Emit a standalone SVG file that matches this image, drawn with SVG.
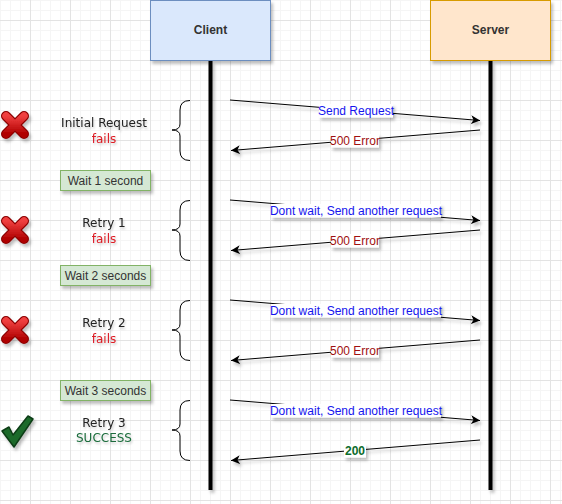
<svg xmlns="http://www.w3.org/2000/svg" width="562" height="504" viewBox="0 0 562 504">
<defs>
<pattern id="grid" patternUnits="userSpaceOnUse" x="0" y="0" width="40" height="40">
<path d="M0.5 0V40M10.5 0V40M20.5 0V40M0 0.5H40M0 10.5H40M0 30.5H40" stroke="#f5f5f5" stroke-width="1" fill="none"/>
<path d="M30.5 0V40M0 20.5H40" stroke="#e3e3e3" stroke-width="1" fill="none"/>
</pattern>
<filter id="sh" filterUnits="userSpaceOnUse" x="0" y="0" width="562" height="504">
<feDropShadow dx="2" dy="3" stdDeviation="1.5" flood-color="#000" flood-opacity="0.25"/>
</filter>
<filter id="tsh" filterUnits="userSpaceOnUse" x="0" y="0" width="562" height="504">
<feDropShadow dx="1" dy="2" stdDeviation="1" flood-color="#000" flood-opacity="0.2"/>
</filter>
<marker id="arr" markerWidth="10" markerHeight="10" refX="9" refY="5" orient="auto" markerUnits="userSpaceOnUse">
<path d="M0 0.5L9 5L0 9.5L2.5 5Z" fill="#000"/>
</marker>
<linearGradient id="red" x1="0" y1="0" x2="0" y2="1">
<stop offset="0" stop-color="#f04040"/>
<stop offset="1" stop-color="#b00000"/>
</linearGradient>
<g id="xicon">
<path d="M-9 -9L9 9M9 -9L-9 9" stroke="#8a0000" stroke-width="10" stroke-linecap="round"/>
<path d="M-9 -9L9 9M9 -9L-9 9" stroke="url(#red)" stroke-width="7.5" stroke-linecap="round"/>
</g>
</defs>
<style>
.cmt{font-family:"Comic Sans MS","DejaVu Sans",sans-serif;font-size:12px;text-anchor:middle;fill:#222}
.fail{fill:#dd1a22}
.ok{fill:#1a6b3a}
.wait rect{fill:#d5e8d4;stroke:#82b366;stroke-width:1}
.wait text{font-family:"Liberation Sans",Arial,sans-serif;font-size:12px;fill:#333;text-anchor:middle}
.brace{fill:none;stroke:#000;stroke-width:1}
.msg{stroke:#000;stroke-width:1;fill:none}
.lbl rect{fill:#fff}
.lbl text{font-family:"Liberation Sans",Arial,sans-serif;font-size:12px;text-anchor:middle}
.blue{fill:#1515ee}
.err{fill:#a01010}
.g200{fill:#0b6b2b;font-weight:bold}
.life{fill:#000}
.hdr{font-family:"Liberation Sans",Arial,sans-serif;font-size:12px;font-weight:bold;fill:#333;text-anchor:middle}
</style>
<rect width="562" height="504" fill="#fff"/>
<rect width="562" height="504" fill="url(#grid)"/>

<g id="client">
<rect x="150.5" y="0.5" width="120" height="60" fill="#dae8fc" stroke="#6c8ebf" filter="url(#sh)"/>
<text class="hdr" x="210.5" y="34">Client</text>
<rect class="life" x="208.5" y="61" width="4" height="429" filter="url(#sh)"/>
</g>
<g id="server">
<rect x="430.5" y="0.5" width="120" height="60" fill="#ffe6cc" stroke="#d79b00" filter="url(#sh)"/>
<text class="hdr" x="490.5" y="34">Server</text>
<rect class="life" x="488.5" y="61" width="4" height="429" filter="url(#sh)"/>
</g>

<g id="icons" filter="url(#sh)">
<use href="#xicon" x="15" y="125"/>
<use href="#xicon" x="15" y="230"/>
<use href="#xicon" x="15" y="330"/>
<path d="M2 431 L9 427 L13 435 L28 416 L33 419 L14 447 Z" fill="#1c6b2c" stroke="#0d3d16" stroke-width="1.5" stroke-linejoin="round"/>
</g>

<g id="notes" filter="url(#tsh)">
<text class="cmt" x="104" y="127">Initial Request</text>
<text class="cmt fail" x="104" y="143">fails</text>
<text class="cmt" x="104" y="227">Retry 1</text>
<text class="cmt fail" x="104" y="243">fails</text>
<text class="cmt" x="104" y="327">Retry 2</text>
<text class="cmt fail" x="104" y="343">fails</text>
<text class="cmt" x="104" y="427">Retry 3</text>
<text class="cmt ok" x="104" y="442">SUCCESS</text>
</g>

<g id="wait1" class="wait"><rect x="60.5" y="170.5" width="90" height="20" filter="url(#sh)"/><text x="105.5" y="185">Wait 1 second</text></g>
<g id="wait2" class="wait"><rect x="60.5" y="265.5" width="90" height="20" filter="url(#sh)"/><text x="105.5" y="280">Wait 2 seconds</text></g>
<g id="wait3" class="wait"><rect x="60.5" y="380.5" width="90" height="20" filter="url(#sh)"/><text x="105.5" y="395">Wait 3 seconds</text></g>

<g id="braces">
<path class="brace" d="M190 100.5 Q180 100.5 180 110 L180 124 Q180 130 172 130 Q180 130 180 136 L180 151 Q180 160.5 190 160.5"/>
<path class="brace" d="M190 200.5 Q180 200.5 180 210 L180 224 Q180 230 172 230 Q180 230 180 236 L180 251 Q180 260.5 190 260.5"/>
<path class="brace" d="M190 300.5 Q180 300.5 180 310 L180 324 Q180 330 172 330 Q180 330 180 336 L180 351 Q180 360.5 190 360.5"/>
<path class="brace" d="M190 400.5 Q180 400.5 180 410 L180 424 Q180 430 172 430 Q180 430 180 436 L180 451 Q180 460.5 190 460.5"/>
</g>

<g id="connectors" filter="url(#sh)">
<line class="msg" x1="230" y1="100" x2="480" y2="120.5" marker-end="url(#arr)"/>
<line class="msg" x1="480" y1="130" x2="231" y2="150.5" marker-end="url(#arr)"/>
<line class="msg" x1="230" y1="200" x2="480" y2="220.5" marker-end="url(#arr)"/>
<line class="msg" x1="480" y1="230" x2="231" y2="250.5" marker-end="url(#arr)"/>
<line class="msg" x1="230" y1="300" x2="480" y2="320.5" marker-end="url(#arr)"/>
<line class="msg" x1="480" y1="340" x2="231" y2="360.5" marker-end="url(#arr)"/>
<line class="msg" x1="230" y1="400" x2="480" y2="420.5" marker-end="url(#arr)"/>
<line class="msg" x1="480" y1="440" x2="231" y2="460.5" marker-end="url(#arr)"/>
</g>

<g id="labels" class="lbl">
<g filter="url(#sh)">
<rect x="319" y="104" width="74" height="13.5"/>
<rect x="331" y="134" width="48" height="13.5"/>
<rect x="271" y="204" width="170" height="13.5"/>
<rect x="331" y="234" width="48" height="13.5"/>
<rect x="271" y="304" width="170" height="13.5"/>
<rect x="331" y="344" width="48" height="13.5"/>
<rect x="271" y="404" width="170" height="13.5"/>
<rect x="344" y="444" width="22" height="13.5"/>
</g>
<text class="blue" x="356" y="115">Send Request</text>
<text class="err" x="355" y="145">500 Error</text>
<text class="blue" x="356" y="215">Dont wait, Send another request</text>
<text class="err" x="355" y="245">500 Error</text>
<text class="blue" x="356" y="315">Dont wait, Send another request</text>
<text class="err" x="355" y="355">500 Error</text>
<text class="blue" x="356" y="415">Dont wait, Send another request</text>
<text class="g200" x="355" y="455">200</text>
</g>
</svg>
